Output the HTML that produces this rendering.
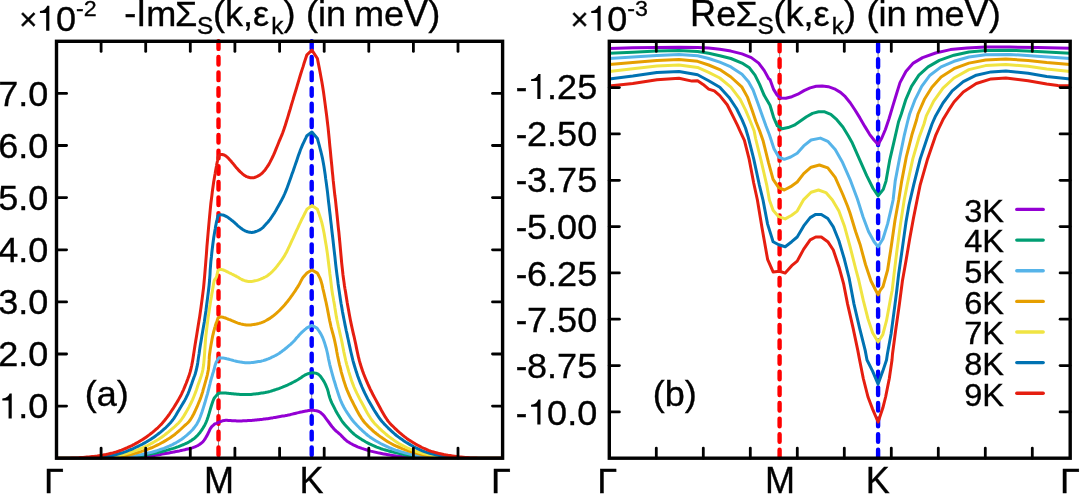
<!DOCTYPE html>
<html><head><meta charset="utf-8"><title>Self-energy plots</title>
<style>html,body{margin:0;padding:0;background:#fff;}body{width:1080px;height:494px;overflow:hidden;position:relative;font-family:"Liberation Sans",sans-serif;}</style></head>
<body>
<svg width="1080" height="494" viewBox="0 0 1080 494" style="position:absolute;left:0;top:0;will-change:transform;font-family:'Liberation Sans',sans-serif">
<rect width="1080" height="494" fill="#fff"/>
<line x1="218.5" y1="392" x2="218.5" y2="446" stroke="#333" stroke-width="0.55"/>
<line x1="311.7" y1="392" x2="311.7" y2="416" stroke="#333" stroke-width="0.55"/>
<line x1="779.6" y1="52" x2="779.6" y2="186" stroke="#333" stroke-width="0.55"/>
<line x1="878.1" y1="52" x2="878.1" y2="186" stroke="#333" stroke-width="0.55"/>
<defs><clipPath id="cd"><rect x="0" y="39.0" width="1080" height="420.9"/></clipPath></defs>
<g clip-path="url(#cd)">
<line x1="218.5" y1="41.30" x2="218.5" y2="458.2" stroke="#FF0000" stroke-width="4.4" stroke-linecap="round" stroke-dasharray="7.6 8.02"/>
<line x1="311.7" y1="41.30" x2="311.7" y2="458.2" stroke="#0000FF" stroke-width="4.4" stroke-linecap="round" stroke-dasharray="7.6 8.02"/>
<line x1="779.6" y1="28.08" x2="779.6" y2="458.2" stroke="#FF0000" stroke-width="4.4" stroke-linecap="round" stroke-dasharray="7.6 8.02"/>
<line x1="878.1" y1="28.08" x2="878.1" y2="458.2" stroke="#0000FF" stroke-width="4.4" stroke-linecap="round" stroke-dasharray="7.6 8.02"/>
</g>
<defs><clipPath id="c1"><rect x="56.5" y="41.3" width="446.1" height="417.9"/></clipPath><clipPath id="c2"><rect x="609.3" y="41.3" width="460.9000000000001" height="416.9"/></clipPath></defs>
<g clip-path="url(#c1)" fill="none" stroke-width="3" stroke-linejoin="round" stroke-linecap="round">
<polyline points="56.5,458.2 69.7,458.2 83.8,458.3 97.8,458.4 111.1,458.4 122.7,458.3 132.0,458.1 135.3,457.9 138.2,457.8 140.8,457.5 143.1,457.3 145.3,457.1 147.4,456.8 148.8,456.6 150.2,456.4 151.4,456.1 152.6,455.9 153.9,455.7 155.2,455.4 156.8,455.1 158.6,454.8 160.3,454.5 162.1,454.1 163.9,453.8 165.6,453.5 167.3,453.2 169.0,452.9 170.8,452.6 172.5,452.3 174.2,451.9 175.9,451.6 177.7,451.2 179.4,450.9 181.2,450.5 182.9,450.1 184.7,449.7 186.3,449.3 187.7,449.0 189.0,448.7 190.3,448.4 191.6,448.1 192.8,447.7 194.1,447.2 195.5,446.6 196.8,446.0 198.2,445.3 199.5,444.5 200.8,443.6 201.9,442.7 202.9,441.7 203.8,440.6 204.7,439.4 205.5,438.1 206.2,436.9 207.0,435.6 207.7,434.3 208.3,432.9 209.0,431.5 209.6,430.2 210.2,428.9 210.9,427.8 211.5,427.0 212.1,426.3 212.8,425.7 213.5,425.1 214.1,424.5 214.8,423.9 216.4,423.3 218.0,422.6 219.7,421.9 221.3,421.3 222.9,420.7 224.4,420.4 225.7,420.3 227.0,420.3 228.2,420.4 229.4,420.5 230.7,420.6 231.9,420.7 233.1,420.7 234.4,420.8 235.6,420.8 236.8,420.9 238.1,420.9 239.3,420.9 240.5,420.9 241.8,420.9 243.0,420.8 244.2,420.8 245.5,420.8 246.7,420.7 247.9,420.6 249.1,420.6 250.3,420.5 251.6,420.4 252.8,420.3 254.0,420.2 255.2,420.1 256.5,420.0 257.7,419.8 259.0,419.7 260.3,419.5 261.5,419.4 262.7,419.3 264.0,419.1 265.2,419.0 266.4,418.8 267.7,418.7 268.9,418.5 270.1,418.3 271.4,418.1 272.6,417.9 273.8,417.6 275.1,417.4 276.3,417.2 277.5,417.0 278.8,416.8 280.0,416.6 281.2,416.3 282.5,416.1 283.7,415.9 284.9,415.7 286.2,415.4 287.4,415.2 288.6,414.9 289.9,414.7 291.1,414.4 292.3,414.1 293.6,413.8 294.8,413.5 296.0,413.2 297.3,412.9 298.5,412.6 299.8,412.3 301.1,412.1 302.4,411.8 303.6,411.5 304.8,411.3 305.9,411.1 306.6,411.0 307.2,410.8 307.8,410.7 308.4,410.6 309.0,410.5 309.6,410.4 310.3,410.3 311.1,410.3 311.9,410.2 312.7,410.2 313.5,410.3 314.3,410.4 315.3,410.6 316.4,410.8 317.4,411.0 318.5,411.4 319.6,411.9 320.7,412.6 322.6,414.3 324.6,416.6 326.6,419.3 328.6,422.0 330.4,424.5 331.9,426.5 332.6,427.3 333.2,428.0 333.8,428.7 334.3,429.3 334.9,429.9 335.5,430.5 336.2,431.1 336.9,431.8 337.7,432.3 338.4,433.0 339.2,433.6 340.0,434.3 341.0,435.3 342.0,436.4 343.1,437.5 344.2,438.6 345.3,439.7 346.5,440.7 347.9,441.7 349.3,442.6 350.8,443.5 352.3,444.3 353.9,445.1 355.6,445.9 357.6,446.8 359.7,447.6 361.9,448.4 364.1,449.1 366.3,449.8 368.5,450.5 370.7,451.1 372.8,451.6 375.0,452.1 377.2,452.6 379.3,453.1 381.5,453.5 383.7,453.9 385.8,454.3 388.0,454.7 390.2,455.1 392.3,455.4 394.4,455.7 396.2,456.0 397.9,456.2 399.6,456.4 401.3,456.6 403.1,456.8 404.8,457.0 406.6,457.2 408.5,457.4 410.4,457.6 412.3,457.7 414.2,457.9 416.0,458.0 417.6,458.1 419.0,458.1 420.4,458.2 422.0,458.2 423.8,458.2 426.0,458.2 434.6,458.2 446.2,458.3 459.8,458.3 474.4,458.2 489.0,458.2 502.6,458.2" stroke="#9400D3"/>
<polyline points="56.5,458.2 68.3,458.2 80.8,458.3 93.2,458.4 105.0,458.5 115.5,458.4 124.0,458.1 127.3,457.9 130.2,457.7 132.8,457.4 135.2,457.2 137.4,456.8 139.6,456.5 141.0,456.2 142.4,455.9 143.6,455.6 144.8,455.3 146.1,454.9 147.4,454.6 149.0,454.3 150.8,453.9 152.5,453.6 154.3,453.2 156.1,452.9 157.8,452.5 159.5,452.1 161.2,451.7 163.0,451.3 164.7,450.8 166.4,450.4 168.1,449.9 169.8,449.4 171.6,448.9 173.3,448.4 175.1,447.8 176.8,447.2 178.5,446.6 180.3,445.9 182.1,445.2 183.8,444.5 185.6,443.7 187.3,442.9 188.9,442.0 190.3,441.1 191.7,440.3 193.0,439.3 194.3,438.4 195.5,437.3 196.7,436.2 197.9,434.9 199.1,433.6 200.2,432.2 201.3,430.7 202.3,429.2 203.2,427.8 203.9,426.6 204.6,425.4 205.2,424.2 205.8,422.9 206.4,421.5 207.0,420.0 208.1,416.8 209.3,412.9 210.5,408.7 211.7,404.7 212.9,401.2 213.9,398.7 214.3,398.0 214.7,397.5 215.0,397.1 215.4,396.7 215.7,396.3 216.1,395.9 216.5,395.5 216.8,395.0 217.2,394.6 217.6,394.2 217.9,393.7 218.3,393.3 218.9,393.2 219.4,393.2 219.9,393.1 220.5,393.1 221.1,393.0 221.7,393.0 222.6,393.0 223.7,393.0 224.7,393.1 225.9,393.1 227.0,393.2 228.1,393.3 229.3,393.4 230.5,393.5 231.8,393.7 233.0,393.8 234.3,394.0 235.6,394.1 237.1,394.2 238.6,394.3 240.1,394.4 241.7,394.5 243.3,394.6 244.8,394.6 246.3,394.6 247.9,394.5 249.5,394.5 251.0,394.4 252.5,394.2 254.0,394.1 255.3,394.0 256.6,393.8 257.8,393.7 259.0,393.5 260.3,393.3 261.5,393.1 262.7,392.9 264.0,392.7 265.2,392.5 266.4,392.2 267.7,392.0 268.9,391.7 270.1,391.4 271.4,391.0 272.6,390.6 273.8,390.2 275.1,389.8 276.3,389.4 277.5,389.0 278.8,388.6 280.0,388.1 281.2,387.7 282.5,387.2 283.7,386.7 284.9,386.2 286.2,385.6 287.4,385.1 288.6,384.5 289.9,383.9 291.1,383.3 292.3,382.7 293.6,382.0 294.8,381.4 296.0,380.7 297.3,380.0 298.5,379.3 299.7,378.5 301.0,377.7 302.2,376.8 303.4,376.0 304.7,375.2 305.9,374.6 307.0,374.1 308.1,373.7 309.2,373.4 310.3,373.1 311.3,372.9 312.4,372.8 313.4,372.8 314.3,372.9 315.3,373.1 316.2,373.3 317.1,373.7 318.0,374.1 318.9,374.7 319.7,375.5 320.4,376.3 321.2,377.3 321.9,378.3 322.6,379.3 323.4,380.6 324.3,382.1 325.1,383.6 325.8,385.2 326.5,386.9 327.2,388.5 327.8,390.3 328.3,392.1 328.7,393.9 329.2,395.8 329.8,397.8 330.5,399.9 331.9,403.1 333.7,406.7 335.6,410.4 337.6,414.0 339.6,417.3 341.3,420.0 342.2,421.3 343.1,422.5 343.9,423.5 344.7,424.5 345.6,425.5 346.5,426.5 347.7,427.8 348.9,429.1 350.1,430.4 351.5,431.8 352.8,433.0 354.3,434.3 356.0,435.7 357.9,437.0 359.8,438.3 361.8,439.6 363.9,440.8 365.9,442.0 368.0,443.1 370.1,444.2 372.3,445.2 374.5,446.1 376.7,447.1 378.9,447.9 381.0,448.7 383.2,449.4 385.4,450.0 387.6,450.6 389.7,451.2 391.9,451.8 394.1,452.4 396.3,452.9 398.5,453.4 400.7,453.9 402.8,454.4 404.8,454.8 406.2,455.1 407.5,455.4 408.7,455.7 410.0,455.9 411.2,456.2 412.6,456.4 414.4,456.7 416.3,457.0 418.2,457.3 420.2,457.5 422.1,457.7 424.0,457.9 425.6,458.0 427.0,458.1 428.5,458.1 430.0,458.2 431.8,458.2 434.0,458.2 441.9,458.3 452.3,458.3 464.5,458.3 477.5,458.2 490.5,458.2 502.6,458.2" stroke="#009E73"/>
<polyline points="56.5,458.2 66.5,458.2 77.0,458.3 87.5,458.3 97.6,458.3 106.5,458.3 114.0,458.1 117.2,458.0 120.1,457.8 122.8,457.6 125.2,457.5 127.3,457.2 129.3,457.0 130.3,456.9 131.1,456.7 131.9,456.5 132.7,456.4 133.5,456.2 134.4,456.0 135.9,455.7 137.6,455.3 139.4,455.0 141.2,454.6 143.0,454.2 144.8,453.8 146.5,453.4 148.3,453.0 150.0,452.6 151.7,452.2 153.5,451.7 155.2,451.2 156.9,450.7 158.7,450.1 160.4,449.5 162.2,448.9 163.9,448.3 165.6,447.6 167.3,446.9 169.1,446.2 170.8,445.4 172.5,444.6 174.2,443.7 175.9,442.8 177.7,441.7 179.5,440.6 181.3,439.4 183.0,438.2 184.7,436.9 186.3,435.6 187.7,434.4 189.1,433.1 190.5,431.8 191.8,430.5 193.0,429.2 194.1,427.8 195.0,426.6 195.9,425.4 196.7,424.3 197.4,423.0 198.2,421.6 199.0,420.0 200.4,416.5 201.9,412.3 203.4,407.6 204.9,402.8 206.2,398.2 207.4,394.1 208.1,391.4 208.8,388.7 209.4,386.2 210.0,383.8 210.5,381.5 211.1,379.3 211.6,377.6 212.1,376.0 212.5,374.5 213.0,372.9 213.5,371.5 213.9,370.0 214.3,368.7 214.6,367.3 214.9,366.0 215.3,364.7 215.7,363.5 216.1,362.4 216.5,361.5 217.0,360.8 217.4,360.0 217.9,359.3 218.4,358.5 218.9,357.8 219.7,357.8 220.4,357.9 221.2,357.9 221.9,357.9 222.7,358.0 223.5,358.1 224.5,358.3 225.6,358.5 226.7,358.8 227.8,359.0 228.9,359.3 230.0,359.6 231.2,359.9 232.4,360.2 233.6,360.6 234.8,360.9 236.1,361.2 237.4,361.5 238.9,361.8 240.4,362.1 242.0,362.3 243.6,362.6 245.1,362.7 246.7,362.8 248.2,362.8 249.8,362.7 251.4,362.6 252.9,362.4 254.4,362.2 255.9,362.0 257.2,361.8 258.4,361.6 259.7,361.4 260.9,361.2 262.1,360.9 263.3,360.6 264.5,360.2 265.8,359.8 267.0,359.3 268.3,358.9 269.5,358.3 270.7,357.8 271.9,357.2 273.2,356.7 274.4,356.0 275.7,355.4 276.9,354.7 278.1,354.0 279.4,353.2 280.6,352.3 281.9,351.4 283.1,350.4 284.4,349.5 285.6,348.5 286.9,347.5 288.1,346.4 289.3,345.4 290.6,344.3 291.8,343.2 293.0,342.0 294.3,340.7 295.5,339.3 296.7,337.8 298.0,336.4 299.2,335.0 300.4,333.7 301.5,332.6 302.6,331.6 303.7,330.7 304.7,329.7 305.8,328.8 306.9,327.8 311.9,325.4 317.0,328.1 317.8,329.3 318.6,330.5 319.4,331.7 320.2,332.9 321.0,334.2 321.7,335.6 322.6,337.5 323.4,339.5 324.2,341.7 324.9,343.9 325.6,346.2 326.3,348.5 326.9,351.0 327.5,353.5 328.0,356.1 328.5,358.8 329.1,361.5 329.7,364.3 330.6,367.9 331.6,371.7 332.7,375.6 333.8,379.5 335.0,383.3 336.1,387.0 337.1,390.1 338.1,393.2 339.1,396.2 340.1,399.1 341.3,402.0 342.6,404.8 344.0,407.5 345.6,410.2 347.3,412.9 349.0,415.4 350.7,417.8 352.3,420.0 353.5,421.5 354.6,422.8 355.8,424.1 356.9,425.3 358.1,426.5 359.4,427.8 361.0,429.3 362.6,430.9 364.3,432.4 366.1,434.0 367.9,435.5 369.8,436.9 371.8,438.3 374.0,439.7 376.1,441.0 378.4,442.3 380.6,443.5 382.8,444.6 384.9,445.6 387.1,446.6 389.2,447.6 391.4,448.5 393.5,449.3 395.7,450.1 397.9,450.8 400.0,451.5 402.2,452.1 404.4,452.7 406.6,453.3 408.7,453.8 410.7,454.3 412.6,454.7 414.6,455.1 416.5,455.4 418.5,455.8 420.4,456.1 422.3,456.4 424.3,456.8 426.3,457.1 428.2,457.4 430.1,457.6 432.0,457.8 433.6,457.9 435.1,458.0 436.5,458.1 438.1,458.1 439.9,458.2 442.0,458.2 449.1,458.3 458.4,458.3 469.1,458.3 480.5,458.3 491.9,458.2 502.6,458.2" stroke="#56B4E9"/>
<polyline points="56.5,458.2 65.1,458.2 74.0,458.3 83.0,458.4 91.6,458.4 99.4,458.3 106.0,458.1 109.1,457.9 111.9,457.7 114.5,457.5 116.9,457.2 119.2,456.9 121.5,456.5 123.4,456.2 125.1,455.8 126.8,455.4 128.5,455.1 130.2,454.6 131.9,454.2 133.6,453.7 135.3,453.3 137.1,452.8 138.8,452.3 140.5,451.8 142.2,451.2 143.9,450.6 145.7,450.0 147.4,449.4 149.2,448.7 150.9,448.0 152.6,447.3 154.4,446.5 156.1,445.7 157.8,444.8 159.6,444.0 161.3,443.0 163.0,442.1 164.7,441.1 166.5,440.1 168.2,439.0 169.9,438.0 171.6,436.8 173.3,435.6 175.1,434.2 176.9,432.7 178.7,431.1 180.5,429.5 182.1,428.0 183.7,426.5 184.9,425.4 186.0,424.5 187.1,423.5 188.1,422.5 189.1,421.4 190.2,420.0 191.9,417.3 193.7,414.0 195.4,410.4 197.1,406.7 198.6,403.0 200.0,399.6 201.0,397.0 201.8,394.5 202.6,392.1 203.2,389.7 203.9,387.3 204.6,384.8 205.3,382.3 206.0,379.9 206.7,377.5 207.3,375.0 207.8,372.5 208.3,370.0 208.6,367.4 208.9,364.7 209.0,362.1 209.2,359.4 209.3,356.7 209.6,354.0 210.0,351.2 210.4,348.4 210.9,345.5 211.4,342.7 211.9,340.0 212.4,337.4 212.8,335.4 213.3,333.5 213.7,331.6 214.2,329.8 214.7,328.0 215.2,326.3 215.6,324.8 216.1,323.4 216.6,322.1 217.1,320.7 217.5,319.4 218.0,318.0 218.4,317.8 218.9,317.6 219.3,317.4 219.7,317.2 220.2,317.1 220.7,317.0 221.4,317.0 222.1,317.1 222.9,317.3 223.7,317.5 224.6,317.7 225.4,318.0 226.4,318.4 227.5,318.8 228.6,319.3 229.7,319.7 230.8,320.2 231.9,320.7 233.1,321.2 234.3,321.7 235.5,322.2 236.8,322.7 238.0,323.1 239.3,323.5 240.7,323.9 242.1,324.2 243.5,324.5 244.9,324.7 246.3,324.9 247.6,325.0 248.7,325.0 249.8,325.0 250.8,324.9 251.9,324.7 252.9,324.6 254.0,324.4 255.2,324.2 256.5,324.0 257.7,323.7 259.0,323.4 260.3,323.0 261.5,322.6 262.8,322.1 264.0,321.6 265.2,321.0 266.5,320.3 267.7,319.6 268.9,318.9 270.2,318.1 271.4,317.2 272.7,316.3 273.9,315.3 275.1,314.3 276.3,313.3 277.6,312.2 278.8,311.0 280.1,309.8 281.3,308.5 282.5,307.2 283.7,305.9 285.0,304.5 286.2,303.0 287.5,301.5 288.7,299.9 289.9,298.3 291.1,296.7 292.4,294.9 293.7,293.0 295.0,291.1 296.2,289.2 297.4,287.4 298.5,285.6 299.3,284.2 300.1,282.7 300.8,281.3 301.5,279.9 302.2,278.7 303.0,277.5 303.6,276.7 304.3,275.9 304.9,275.2 305.6,274.5 306.2,273.8 306.9,273.1 311.9,270.0 317.4,273.1 318.0,274.2 318.5,275.3 319.1,276.4 319.7,277.6 320.2,278.7 320.7,280.0 321.2,281.7 321.7,283.4 322.2,285.2 322.6,287.1 323.0,289.1 323.5,291.1 324.1,293.7 324.7,296.4 325.3,299.2 326.0,302.0 326.6,304.9 327.2,307.8 327.8,310.9 328.4,314.0 329.0,317.2 329.6,320.3 330.3,323.4 330.9,326.3 331.5,328.7 332.1,330.9 332.7,333.0 333.3,335.2 333.9,337.5 334.5,340.0 335.3,343.7 336.1,347.6 336.8,351.8 337.6,356.0 338.5,360.2 339.4,364.3 340.4,368.2 341.3,372.1 342.4,375.9 343.5,379.7 344.7,383.4 345.9,387.0 347.1,390.1 348.4,393.2 349.7,396.2 351.1,399.1 352.6,402.0 354.0,404.8 355.4,407.5 356.8,410.2 358.3,412.9 359.7,415.4 361.2,417.8 362.7,420.0 363.8,421.5 365.0,422.9 366.1,424.1 367.3,425.4 368.5,426.6 369.8,427.8 371.2,429.1 372.6,430.5 374.1,431.8 375.6,433.0 377.2,434.3 378.9,435.6 380.9,437.1 383.0,438.5 385.2,440.0 387.4,441.4 389.7,442.8 391.9,444.0 394.0,445.1 396.2,446.1 398.3,447.0 400.5,447.9 402.6,448.8 404.8,449.6 406.9,450.4 409.1,451.1 411.3,451.7 413.4,452.4 415.6,452.9 417.8,453.5 420.0,454.0 422.1,454.5 424.3,454.9 426.5,455.3 428.6,455.7 430.7,456.1 432.6,456.4 434.5,456.8 436.4,457.1 438.3,457.4 440.2,457.6 442.0,457.8 443.6,457.9 445.1,458.0 446.6,458.1 448.1,458.1 449.9,458.2 452.0,458.2 458.2,458.3 466.0,458.3 474.9,458.3 484.3,458.2 493.7,458.2 502.6,458.2" stroke="#E69F00"/>
<polyline points="56.5,458.2 63.6,458.2 71.1,458.3 78.5,458.3 85.6,458.3 92.2,458.3 98.0,458.1 101.1,458.0 104.0,457.8 106.7,457.6 109.2,457.4 111.5,457.1 113.7,456.8 115.2,456.5 116.5,456.3 117.7,455.9 118.9,455.6 120.2,455.3 121.5,454.9 123.2,454.5 124.9,454.0 126.6,453.5 128.4,453.0 130.2,452.5 131.9,451.9 133.6,451.3 135.4,450.7 137.1,450.1 138.8,449.4 140.5,448.7 142.2,448.0 143.9,447.2 145.7,446.4 147.4,445.6 149.2,444.7 150.9,443.7 152.6,442.8 154.4,441.8 156.1,440.7 157.8,439.7 159.6,438.6 161.3,437.4 163.0,436.2 164.8,434.9 166.5,433.5 168.3,432.1 170.0,430.7 171.7,429.2 173.3,427.8 174.7,426.6 176.0,425.4 177.3,424.2 178.6,423.0 179.8,421.6 181.1,420.0 183.1,417.2 185.1,413.9 187.2,410.3 189.2,406.6 191.0,403.0 192.6,399.6 193.7,397.0 194.7,394.5 195.6,392.1 196.5,389.7 197.3,387.3 198.1,384.8 199.0,382.4 199.8,380.1 200.6,377.8 201.4,375.4 202.1,372.9 202.8,370.0 203.6,365.1 204.1,359.5 204.6,353.5 205.0,347.3 205.4,341.3 205.9,335.6 206.5,330.7 207.1,325.8 207.7,321.1 208.3,316.4 209.0,312.0 209.6,307.8 210.1,304.7 210.5,301.8 211.0,299.0 211.5,296.3 211.9,293.6 212.4,291.1 212.7,289.0 213.1,286.9 213.4,284.9 213.7,283.0 214.1,281.3 214.5,280.0 214.7,279.5 215.0,279.2 215.3,278.9 215.6,278.6 215.8,278.2 216.1,277.8 216.5,276.8 216.8,275.7 217.1,274.4 217.4,273.0 217.7,271.7 218.0,270.4 218.3,270.3 218.6,270.1 218.9,269.9 219.1,269.8 219.5,269.7 219.8,269.6 220.3,269.6 220.9,269.6 221.5,269.6 222.2,269.7 222.9,269.8 223.5,270.0 224.2,270.3 225.0,270.6 225.7,270.9 226.5,271.4 227.3,271.8 228.1,272.2 229.2,272.8 230.5,273.3 231.7,274.0 233.0,274.6 234.3,275.3 235.6,275.9 236.8,276.6 238.1,277.3 239.3,278.1 240.5,278.8 241.8,279.5 243.0,280.0 244.1,280.4 245.1,280.7 246.2,281.0 247.3,281.3 248.3,281.4 249.4,281.5 250.5,281.5 251.6,281.4 252.7,281.3 253.8,281.1 254.9,280.8 255.9,280.6 256.9,280.4 257.8,280.1 258.7,279.8 259.7,279.4 260.6,279.1 261.5,278.7 262.4,278.3 263.4,277.9 264.3,277.4 265.2,277.0 266.1,276.5 267.0,275.9 268.0,275.2 268.9,274.5 269.9,273.8 270.8,273.0 271.7,272.2 272.6,271.3 273.5,270.3 274.5,269.3 275.4,268.2 276.3,267.1 277.2,266.0 278.1,264.8 279.2,263.4 280.3,261.9 281.4,260.4 282.5,258.8 283.6,257.2 284.6,255.6 285.6,253.8 286.6,252.0 287.5,250.1 288.4,248.2 289.3,246.3 290.2,244.4 291.1,242.4 292.0,240.4 293.0,238.4 293.9,236.4 294.8,234.4 295.7,232.4 296.6,230.4 297.6,228.4 298.5,226.4 299.4,224.4 300.4,222.4 301.3,220.4 302.2,218.5 303.2,216.7 304.1,214.8 305.0,213.0 306.0,211.1 306.9,209.3 311.9,205.6 317.4,209.3 318.1,211.4 318.9,213.4 319.6,215.5 320.3,217.6 321.0,219.8 321.7,222.2 322.6,225.8 323.4,229.7 324.2,233.8 324.9,238.0 325.6,242.2 326.3,246.3 326.9,250.3 327.5,254.4 328.0,258.5 328.5,262.5 329.0,266.5 329.5,270.4 329.9,274.0 330.4,277.5 330.8,281.0 331.2,284.4 331.6,287.7 332.0,290.7 332.3,292.8 332.6,294.7 333.0,296.5 333.3,298.3 333.6,300.2 334.0,302.2 334.5,304.9 334.9,307.8 335.4,310.8 335.9,313.9 336.4,316.9 337.0,320.0 337.7,323.2 338.4,326.5 339.2,329.8 339.9,333.1 340.7,336.5 341.5,340.0 342.3,343.9 343.1,348.0 343.9,352.1 344.8,356.2 345.7,360.3 346.7,364.3 347.8,368.2 348.9,372.1 350.1,375.9 351.3,379.7 352.6,383.4 354.0,387.0 355.4,390.1 356.8,393.2 358.3,396.2 359.8,399.1 361.4,402.0 362.9,404.8 364.4,407.5 365.8,410.2 367.3,412.9 368.8,415.4 370.3,417.8 371.8,420.0 373.0,421.5 374.1,422.9 375.2,424.1 376.4,425.3 377.6,426.5 378.9,427.8 380.5,429.3 382.1,430.9 383.9,432.4 385.7,434.0 387.5,435.5 389.3,436.9 391.2,438.3 393.1,439.6 395.0,441.0 396.9,442.2 398.9,443.5 400.9,444.6 402.8,445.6 404.7,446.6 406.7,447.6 408.6,448.5 410.6,449.3 412.6,450.1 414.7,450.9 416.9,451.6 419.0,452.3 421.2,452.9 423.4,453.5 425.6,454.1 427.8,454.6 429.9,455.1 432.1,455.6 434.2,456.0 436.4,456.4 438.5,456.7 440.5,457.0 442.4,457.3 444.3,457.5 446.2,457.7 448.1,457.9 450.0,458.0 451.6,458.1 453.1,458.1 454.6,458.2 456.2,458.2 457.9,458.2 460.0,458.2 465.4,458.2 472.0,458.2 479.5,458.2 487.3,458.2 495.2,458.2 502.6,458.2" stroke="#F0E442"/>
<polyline points="56.5,458.2 62.2,458.2 68.1,458.2 74.0,458.3 79.8,458.3 85.1,458.2 90.0,458.1 93.1,458.0 95.9,457.8 98.7,457.6 101.2,457.4 103.6,457.1 105.9,456.8 107.4,456.6 108.7,456.3 109.9,456.1 111.1,455.8 112.4,455.5 113.7,455.2 115.4,454.8 117.1,454.3 118.8,453.8 120.6,453.3 122.4,452.8 124.1,452.2 125.8,451.6 127.6,450.9 129.3,450.2 131.0,449.5 132.7,448.8 134.4,448.0 136.1,447.2 137.9,446.4 139.6,445.5 141.4,444.7 143.1,443.7 144.8,442.8 146.6,441.8 148.3,440.7 150.0,439.7 151.8,438.6 153.5,437.4 155.2,436.2 157.0,434.9 158.8,433.5 160.6,432.1 162.3,430.7 164.0,429.2 165.6,427.8 166.9,426.5 168.1,425.3 169.3,424.0 170.5,422.8 171.6,421.4 172.7,420.0 173.9,418.3 175.1,416.5 176.2,414.7 177.3,412.8 178.5,410.8 179.6,408.9 180.9,406.8 182.1,404.7 183.4,402.6 184.7,400.4 185.9,398.2 187.0,395.9 188.1,393.5 189.1,391.0 190.0,388.5 190.9,385.9 191.8,383.5 192.6,381.1 193.3,379.2 193.9,377.5 194.6,375.8 195.2,374.0 195.7,372.1 196.3,370.0 197.1,366.4 197.8,362.4 198.4,358.1 199.1,353.7 199.7,349.2 200.4,344.8 201.2,340.3 201.9,335.8 202.7,331.2 203.5,326.6 204.3,321.9 205.0,317.0 205.9,311.0 206.7,304.5 207.6,297.8 208.4,291.3 209.1,285.3 209.6,280.0 209.8,277.1 210.0,274.6 210.1,272.2 210.2,269.9 210.4,267.5 210.6,264.8 210.9,261.0 211.4,257.0 211.8,252.8 212.3,248.6 212.8,244.5 213.3,240.7 213.7,237.7 214.2,234.7 214.7,231.8 215.2,229.0 215.6,226.4 216.1,224.0 216.4,222.4 216.7,221.0 217.1,219.7 217.4,218.4 217.7,217.0 218.0,215.7 218.3,215.5 218.6,215.4 218.9,215.2 219.1,215.0 219.5,214.9 219.8,214.8 220.3,214.7 220.9,214.7 221.5,214.8 222.2,214.9 222.9,215.0 223.5,215.2 224.3,215.5 225.0,215.8 225.8,216.2 226.5,216.6 227.3,217.1 228.1,217.6 229.0,218.2 230.0,218.9 230.9,219.6 231.8,220.4 232.8,221.1 233.7,221.9 234.6,222.7 235.6,223.6 236.5,224.4 237.4,225.3 238.3,226.1 239.3,226.9 240.3,227.7 241.4,228.5 242.4,229.2 243.5,229.9 244.6,230.6 245.7,231.1 246.6,231.5 247.6,231.8 248.5,232.0 249.5,232.2 250.4,232.3 251.3,232.4 252.1,232.4 252.9,232.3 253.6,232.2 254.4,232.0 255.1,231.8 255.9,231.5 256.8,231.2 257.8,230.8 258.7,230.3 259.7,229.9 260.6,229.3 261.5,228.7 262.5,227.9 263.4,227.1 264.3,226.1 265.2,225.1 266.1,224.1 267.0,223.1 268.0,222.0 268.9,220.8 269.9,219.6 270.8,218.3 271.7,217.0 272.6,215.7 273.5,214.3 274.5,212.8 275.4,211.3 276.3,209.7 277.2,208.1 278.1,206.5 279.2,204.6 280.3,202.5 281.4,200.5 282.5,198.3 283.6,196.2 284.6,194.0 285.6,191.6 286.6,189.2 287.5,186.8 288.4,184.3 289.3,181.8 290.2,179.3 291.1,176.7 292.0,174.1 293.0,171.4 293.9,168.8 294.8,166.1 295.7,163.5 296.6,160.9 297.5,158.2 298.4,155.5 299.4,152.9 300.3,150.3 301.3,147.8 302.2,145.7 303.1,143.6 304.1,141.6 305.0,139.7 306.0,137.7 306.9,135.7 311.9,132.0 317.4,138.5 318.3,141.9 319.2,145.2 320.1,148.6 321.0,152.0 321.8,155.4 322.6,158.9 323.3,162.8 324.0,166.7 324.6,170.7 325.2,174.8 325.7,178.9 326.3,183.0 326.9,187.5 327.5,192.1 328.0,196.7 328.5,201.3 329.1,206.0 329.6,210.7 330.2,215.5 330.7,220.3 331.3,225.1 331.8,230.0 332.4,235.0 333.0,240.0 333.6,245.7 334.3,251.7 335.0,257.7 335.6,263.7 336.3,269.5 337.0,275.0 337.6,279.4 338.1,283.7 338.7,287.9 339.3,291.9 339.9,296.0 340.5,300.0 341.1,303.8 341.8,307.5 342.4,311.2 343.1,314.9 343.8,318.5 344.5,322.0 345.1,325.1 345.7,328.0 346.3,331.0 347.0,333.9 347.6,336.9 348.3,340.0 349.1,343.9 350.0,347.9 350.9,352.0 351.9,356.2 352.9,360.3 354.0,364.3 355.2,368.2 356.4,372.1 357.7,375.9 359.1,379.7 360.5,383.4 362.0,387.0 363.4,390.1 364.8,393.2 366.3,396.2 367.8,399.1 369.4,402.0 371.0,404.8 372.6,407.5 374.2,410.2 375.9,412.9 377.5,415.4 379.2,417.8 380.8,420.0 382.0,421.5 383.2,422.8 384.3,424.1 385.5,425.3 386.7,426.5 388.0,427.8 389.6,429.3 391.2,430.9 392.9,432.4 394.7,434.0 396.5,435.5 398.3,436.9 400.2,438.3 402.1,439.6 404.0,440.9 406.0,442.2 408.0,443.4 410.0,444.6 412.1,445.8 414.2,447.0 416.4,448.1 418.6,449.2 420.8,450.2 423.0,451.1 425.2,451.9 427.4,452.6 429.6,453.2 431.8,453.8 433.9,454.3 435.9,454.8 437.3,455.1 438.6,455.4 439.8,455.7 441.0,455.9 442.3,456.2 443.7,456.4 445.6,456.7 447.6,457.0 449.7,457.3 451.9,457.5 454.0,457.7 456.0,457.9 457.7,458.0 459.2,458.1 460.7,458.1 462.2,458.2 464.0,458.2 466.0,458.2 470.8,458.2 476.5,458.3 482.9,458.2 489.6,458.2 496.2,458.2 502.6,458.2" stroke="#0072B2"/>
<polyline points="56.5,458.2 59.1,458.2 61.7,458.2 64.3,458.2 66.9,458.2 69.5,458.2 72.0,458.1 74.3,458.0 76.5,457.9 78.8,457.8 81.0,457.6 83.1,457.5 85.2,457.3 87.0,457.1 88.8,457.0 90.5,456.8 92.2,456.6 93.9,456.4 95.6,456.2 97.3,456.0 99.0,455.7 100.8,455.4 102.5,455.2 104.2,454.8 105.9,454.5 107.6,454.1 109.4,453.7 111.1,453.3 112.8,452.9 114.6,452.4 116.3,451.9 118.0,451.3 119.8,450.7 121.5,450.1 123.3,449.4 125.0,448.7 126.7,448.0 128.4,447.2 130.2,446.4 131.9,445.6 133.6,444.7 135.3,443.7 137.0,442.8 138.8,441.8 140.5,440.7 142.2,439.7 144.0,438.6 145.7,437.4 147.4,436.2 149.2,434.9 151.0,433.5 152.8,432.1 154.5,430.7 156.2,429.2 157.8,427.8 159.1,426.5 160.3,425.3 161.5,424.1 162.6,422.8 163.7,421.4 164.9,420.0 166.4,418.1 168.0,416.0 169.6,413.8 171.1,411.5 172.7,409.2 174.1,407.0 175.4,404.9 176.7,402.7 178.0,400.6 179.2,398.4 180.4,396.3 181.5,394.1 182.5,391.9 183.5,389.8 184.4,387.6 185.3,385.4 186.2,383.2 187.0,381.1 187.7,379.3 188.3,377.6 189.0,375.9 189.5,374.1 190.1,372.2 190.7,370.0 191.6,366.0 192.5,361.4 193.3,356.4 194.1,351.3 194.9,346.1 195.7,341.1 196.5,336.2 197.3,331.2 198.1,326.3 198.9,321.3 199.7,316.4 200.4,311.5 201.1,306.8 201.7,302.2 202.3,297.6 202.9,292.9 203.5,288.1 204.0,283.0 204.6,276.3 205.2,269.1 205.8,261.7 206.4,254.2 206.9,246.9 207.5,240.0 208.0,234.2 208.5,228.4 209.0,222.8 209.5,217.4 210.0,212.1 210.5,207.0 210.9,203.0 211.4,199.2 211.9,195.4 212.3,191.8 212.8,188.3 213.3,184.8 213.7,181.8 214.2,178.9 214.7,176.1 215.2,173.3 215.6,170.7 216.1,168.1 216.5,166.0 216.8,164.1 217.2,162.2 217.6,160.3 217.9,158.4 218.3,156.5 218.7,156.1 219.0,155.7 219.3,155.3 219.7,155.0 220.1,154.7 220.5,154.5 221.1,154.4 221.7,154.4 222.4,154.5 223.1,154.7 223.8,154.9 224.4,155.2 225.0,155.5 225.7,155.9 226.3,156.4 226.9,156.9 227.5,157.4 228.1,158.0 229.0,158.9 229.9,159.9 230.9,161.0 231.8,162.2 232.8,163.3 233.7,164.4 234.6,165.5 235.5,166.6 236.4,167.7 237.4,168.8 238.3,169.9 239.3,170.9 240.3,171.9 241.4,172.8 242.4,173.8 243.5,174.7 244.6,175.4 245.7,176.1 246.6,176.6 247.6,176.9 248.5,177.3 249.5,177.5 250.4,177.7 251.3,177.8 252.1,177.8 252.9,177.8 253.6,177.7 254.4,177.5 255.1,177.3 255.9,177.0 256.8,176.6 257.8,176.2 258.7,175.6 259.7,175.1 260.6,174.4 261.5,173.7 262.5,172.8 263.4,171.8 264.4,170.8 265.3,169.6 266.1,168.4 267.0,167.2 268.0,165.7 269.0,164.1 269.9,162.4 270.8,160.6 271.7,158.8 272.6,157.0 273.6,154.9 274.5,152.8 275.4,150.6 276.3,148.4 277.2,146.2 278.1,144.0 279.0,141.7 280.0,139.4 280.9,137.2 281.9,134.8 282.8,132.5 283.7,130.0 284.7,127.1 285.6,124.2 286.5,121.2 287.5,118.1 288.4,115.1 289.3,112.0 290.3,108.9 291.2,105.7 292.1,102.6 293.1,99.4 294.0,96.2 295.0,93.0 296.0,89.7 297.0,86.3 298.0,83.0 299.0,79.6 300.0,76.3 301.0,73.0 302.0,69.9 303.0,66.9 303.9,63.8 304.9,60.8 305.9,57.8 306.9,54.8 311.9,50.2 317.4,58.5 318.3,63.1 319.2,67.6 320.1,72.2 320.9,76.8 321.8,81.5 322.6,86.3 323.5,92.0 324.3,97.9 325.1,103.9 325.9,110.0 326.7,116.0 327.4,122.0 328.1,127.9 328.7,133.8 329.3,139.8 329.8,145.6 330.4,151.4 330.9,157.0 331.4,161.9 331.9,166.6 332.3,171.3 332.8,175.9 333.2,180.4 333.7,184.8 334.1,188.6 334.5,192.3 334.9,195.8 335.4,199.4 335.8,203.1 336.2,207.0 336.7,211.7 337.2,216.5 337.7,221.5 338.2,226.6 338.8,231.7 339.3,237.0 339.9,243.2 340.5,249.8 341.1,256.5 341.7,263.1 342.4,269.3 343.0,275.0 343.5,278.7 344.0,282.1 344.4,285.3 344.9,288.5 345.5,291.7 346.0,295.0 346.6,298.7 347.2,302.6 347.9,306.4 348.6,310.3 349.3,314.2 350.0,318.0 350.7,321.7 351.5,325.3 352.3,329.0 353.1,332.6 354.0,336.3 354.8,340.0 355.7,344.0 356.5,348.1 357.4,352.3 358.3,356.4 359.3,360.4 360.4,364.3 361.5,367.7 362.6,371.0 363.8,374.3 365.1,377.5 366.4,380.6 367.7,383.7 369.0,386.5 370.2,389.2 371.6,391.8 372.9,394.5 374.3,397.1 375.8,399.9 377.6,403.3 379.5,406.8 381.5,410.5 383.5,414.0 385.4,417.2 387.3,420.0 388.5,421.6 389.6,422.9 390.8,424.2 391.9,425.4 393.1,426.5 394.4,427.8 396.0,429.3 397.6,430.9 399.3,432.4 401.1,433.9 402.9,435.4 404.8,436.9 406.8,438.4 409.0,439.9 411.1,441.3 413.4,442.7 415.6,444.1 417.8,445.3 419.9,446.4 422.0,447.5 424.2,448.5 426.4,449.4 428.5,450.3 430.7,451.1 432.8,451.8 435.0,452.4 437.2,453.0 439.3,453.6 441.5,454.0 443.7,454.5 445.9,454.9 448.0,455.3 450.2,455.6 452.4,455.9 454.5,456.2 456.7,456.5 458.9,456.8 461.1,457.0 463.2,457.2 465.4,457.5 467.5,457.6 469.6,457.8 471.4,457.9 473.0,458.0 474.6,458.1 476.3,458.1 478.0,458.2 480.0,458.2 483.3,458.2 486.9,458.3 490.8,458.2 494.7,458.2 498.7,458.2 502.6,458.2" stroke="#E51E10"/>
</g>
<g clip-path="url(#c2)" fill="none" stroke-width="3" stroke-linejoin="round" stroke-linecap="round">
<polyline points="609.3,48.4 632.8,47.8 656.9,47.4 679.0,47.2 697.6,47.6 708.7,48.1 719.8,49.3 730.9,51.1 742.0,53.9 751.3,57.6 758.7,63.1 764.3,70.6 768.9,79.0 770.0,79.6 773.6,89.4 777.3,95.4 780.9,98.1 785.8,98.2 791.9,96.7 797.9,94.2 804.0,90.6 810.1,87.9 816.2,86.3 822.2,86.0 828.3,86.7 834.4,88.8 840.5,92.4 845.3,96.7 850.2,102.7 855.0,110.0 859.9,117.9 864.8,126.4 869.6,134.3 874.0,140.0 878.1,144.4 881.8,138.0 885.4,129.5 889.1,118.5 892.7,106.4 896.4,94.2 900.0,82.6 905.9,71.5 913.3,63.1 922.6,57.6 935.6,53.0 950.4,49.6 967.0,48.0 985.6,47.0 1009.6,47.0 1037.4,47.6 1070.2,48.3" stroke="#9400D3"/>
<polyline points="609.3,53.3 632.8,52.2 656.9,51.1 679.0,50.6 697.6,51.5 708.7,53.3 719.8,55.7 730.9,58.5 742.0,63.1 749.4,67.8 755.0,75.2 759.6,84.4 764.3,95.6 770.0,105.2 773.6,117.3 777.3,125.8 782.2,128.7 788.2,127.6 794.3,125.2 800.4,121.0 806.5,116.7 812.5,113.4 818.6,111.8 824.7,111.8 830.8,114.3 836.8,119.7 842.9,127.0 848.4,136.0 851.9,142.2 859.3,158.9 866.7,175.6 873.1,188.5 878.1,195.9 883.3,189.4 886.0,181.1 889.6,160.7 894.3,140.4 898.5,122.0 901.3,114.0 905.9,99.3 911.5,86.3 918.9,75.2 928.1,66.9 939.3,60.4 954.0,55.2 968.9,52.0 985.6,50.6 1009.6,50.2 1037.4,51.5 1070.2,53.3" stroke="#009E73"/>
<polyline points="609.3,58.5 632.8,57.0 656.9,55.4 679.0,54.4 697.6,55.7 708.7,58.5 719.8,62.2 730.9,66.9 742.0,74.3 748.5,81.7 753.1,90.0 757.8,103.0 762.4,115.9 766.0,126.0 769.4,134.8 774.0,148.7 778.7,157.0 784.3,159.3 790.7,157.0 797.2,153.3 803.7,145.9 811.1,140.0 820.4,138.1 827.8,141.3 835.2,149.6 842.6,162.6 850.0,179.3 857.4,199.0 863.0,216.7 868.5,231.5 874.1,241.7 878.1,246.8 883.0,238.7 887.6,223.9 891.0,209.3 893.1,200.0 895.2,181.1 899.8,157.0 904.4,134.8 907.5,122.0 909.6,114.0 915.2,99.3 921.7,86.3 930.0,75.2 941.1,66.9 954.0,61.3 968.9,57.0 985.6,54.8 1009.6,54.4 1037.4,56.3 1070.2,58.5" stroke="#56B4E9"/>
<polyline points="609.3,64.4 632.8,62.6 656.9,60.4 679.0,59.4 697.6,61.3 708.7,65.0 719.8,69.6 730.9,77.0 742.0,87.2 747.6,97.4 752.2,110.4 755.9,121.5 759.6,130.7 763.0,140.4 768.5,162.6 773.1,179.3 778.7,187.6 784.3,190.0 790.7,186.7 797.2,182.0 803.7,173.7 811.1,167.2 819.4,165.0 827.8,167.8 835.2,177.4 842.6,194.0 847.5,206.0 850.0,213.0 855.6,231.5 860.0,244.2 865.5,264.5 871.0,281.0 875.7,290.2 878.1,294.8 880.3,290.2 883.0,286.6 887.6,270.0 891.3,246.0 895.0,220.3 898.7,200.0 901.7,181.1 906.3,157.0 911.9,134.8 916.5,120.0 918.0,114.0 924.4,99.3 931.9,87.2 941.1,77.0 954.0,68.7 968.9,63.1 985.6,60.0 1005.9,59.1 1028.1,60.4 1046.7,62.6 1070.2,64.4" stroke="#E69F00"/>
<polyline points="609.3,71.5 632.8,68.7 656.9,65.9 679.0,65.0 697.6,67.4 708.7,72.4 719.8,78.0 730.9,87.2 740.2,99.3 745.7,110.4 750.2,121.0 754.1,130.7 755.6,138.5 761.1,160.7 766.7,184.8 769.4,200.0 773.1,210.2 778.7,216.7 785.2,218.9 791.7,215.2 797.2,211.1 803.7,199.6 811.1,192.2 818.5,190.0 825.9,192.6 832.4,200.0 838.9,211.1 844.4,225.9 850.0,246.3 855.6,268.5 858.7,280.0 863.3,300.4 868.0,318.9 872.6,332.8 878.1,342.0 882.8,334.6 886.5,320.7 890.2,300.4 892.2,290.2 894.1,273.7 896.8,251.6 900.5,223.9 904.2,200.0 907.2,184.8 912.8,158.9 919.3,136.7 924.0,124.0 926.3,115.9 933.7,101.1 943.0,88.1 954.0,78.0 968.9,69.6 985.6,65.6 1005.9,64.4 1028.1,66.3 1046.7,69.1 1070.2,71.5" stroke="#F0E442"/>
<polyline points="609.3,78.9 632.8,76.1 656.9,72.4 679.0,71.5 697.6,74.8 708.7,80.7 719.8,87.2 729.1,97.4 736.5,108.5 742.0,119.6 745.5,128.0 748.1,136.7 753.7,158.9 759.3,184.8 763.0,200.0 767.6,224.1 773.1,241.7 778.7,244.8 785.2,246.7 791.7,241.7 797.2,237.0 803.7,225.9 810.2,217.6 815.7,214.4 821.3,214.4 827.8,218.5 833.3,226.9 838.9,240.7 844.4,259.3 849.1,278.0 854.0,304.1 859.6,328.1 865.2,350.4 867.0,360.0 872.6,371.1 878.1,384.1 882.8,371.1 886.5,360.0 887.4,354.0 891.1,333.7 894.8,305.9 896.8,290.2 898.7,273.7 902.4,247.9 906.0,222.1 909.0,205.0 913.7,184.8 920.2,158.9 927.6,136.7 932.0,124.0 935.6,115.9 943.0,103.0 952.2,90.9 963.3,81.7 976.3,75.2 991.1,71.9 1005.9,71.1 1028.1,73.3 1046.7,76.5 1070.2,78.9" stroke="#0072B2"/>
<polyline points="609.3,85.9 632.8,83.5 656.9,79.8 679.0,78.3 692.0,81.1 697.6,80.7 703.1,84.4 708.7,89.1 714.3,90.9 719.8,95.6 727.2,104.8 732.8,115.9 737.4,125.2 740.0,131.0 744.4,140.4 749.1,158.9 753.7,183.0 757.4,200.0 762.0,227.8 767.6,259.3 773.1,271.9 779.6,271.3 785.2,273.1 791.7,265.7 797.2,261.1 803.7,249.1 810.2,239.8 815.7,237.0 821.3,237.0 827.8,241.7 833.3,250.0 838.9,266.7 843.5,283.3 847.6,304.1 853.1,328.1 857.8,350.4 859.6,360.0 863.3,378.5 868.0,397.0 872.6,409.1 878.1,422.0 882.8,408.1 885.6,397.0 889.3,378.5 892.0,360.0 892.5,354.0 895.7,330.0 899.4,304.1 902.4,281.0 906.0,260.8 909.7,238.7 913.4,218.4 917.1,200.0 920.2,184.8 927.6,158.9 935.9,134.8 939.0,128.0 943.0,119.6 948.5,110.4 954.0,102.0 963.3,91.9 976.3,83.5 991.1,78.9 1005.9,78.0 1028.1,80.7 1046.7,84.1 1057.8,85.4 1070.2,85.7" stroke="#E51E10"/>
</g>
<g stroke-width="3.4" stroke-linecap="round">
<line x1="1016.8" y1="209.4" x2="1043.2" y2="209.4" stroke="#9400D3"/>
<line x1="1016.8" y1="240.1" x2="1043.2" y2="240.1" stroke="#009E73"/>
<line x1="1016.8" y1="270.7" x2="1043.2" y2="270.7" stroke="#56B4E9"/>
<line x1="1016.8" y1="301.4" x2="1043.2" y2="301.4" stroke="#E69F00"/>
<line x1="1016.8" y1="332.0" x2="1043.2" y2="332.0" stroke="#F0E442"/>
<line x1="1016.8" y1="362.6" x2="1043.2" y2="362.6" stroke="#0072B2"/>
<line x1="1016.8" y1="393.3" x2="1043.2" y2="393.3" stroke="#E51E10"/>
</g>
<g font-size="34.6px" fill="#000" stroke="#000" stroke-width="0.35" opacity="0.999">
<text transform="translate(1004.00 221.60) scale(1.03 1)" text-anchor="end" font-size="31.6px">3K</text>
<text transform="translate(1004.00 252.25) scale(1.03 1)" text-anchor="end" font-size="31.6px">4K</text>
<text transform="translate(1004.00 282.90) scale(1.03 1)" text-anchor="end" font-size="31.6px">5K</text>
<text transform="translate(1004.00 313.55) scale(1.03 1)" text-anchor="end" font-size="31.6px">6K</text>
<text transform="translate(1004.00 344.20) scale(1.03 1)" text-anchor="end" font-size="31.6px">7K</text>
<text transform="translate(1004.00 374.85) scale(1.03 1)" text-anchor="end" font-size="31.6px">8K</text>
<text transform="translate(1004.00 405.50) scale(1.03 1)" text-anchor="end" font-size="31.6px">9K</text>
<g stroke="#000" fill="none" stroke-width="3.4">
<rect x="56.5" y="41.3" width="446.1" height="416.9"/>
<rect x="609.3" y="41.3" width="460.9000000000001" height="416.9"/>
</g>
<g stroke="#000" stroke-width="2.8" stroke-linecap="round">
<line x1="101.1" y1="41.3" x2="101.1" y2="51.4"/><line x1="101.1" y1="458.2" x2="101.1" y2="448.09999999999997"/>
<line x1="656.3" y1="41.3" x2="656.3" y2="51.4"/><line x1="656.3" y1="458.2" x2="656.3" y2="448.09999999999997"/>
<line x1="145.7" y1="41.3" x2="145.7" y2="51.4"/><line x1="145.7" y1="458.2" x2="145.7" y2="448.09999999999997"/>
<line x1="703.3" y1="41.3" x2="703.3" y2="51.4"/><line x1="703.3" y1="458.2" x2="703.3" y2="448.09999999999997"/>
<line x1="190.3" y1="41.3" x2="190.3" y2="51.4"/><line x1="190.3" y1="458.2" x2="190.3" y2="448.09999999999997"/>
<line x1="750.3" y1="41.3" x2="750.3" y2="51.4"/><line x1="750.3" y1="458.2" x2="750.3" y2="448.09999999999997"/>
<line x1="234.9" y1="41.3" x2="234.9" y2="51.4"/><line x1="234.9" y1="458.2" x2="234.9" y2="448.09999999999997"/>
<line x1="797.3" y1="41.3" x2="797.3" y2="51.4"/><line x1="797.3" y1="458.2" x2="797.3" y2="448.09999999999997"/>
<line x1="279.6" y1="41.3" x2="279.6" y2="51.4"/><line x1="279.6" y1="458.2" x2="279.6" y2="448.09999999999997"/>
<line x1="844.3" y1="41.3" x2="844.3" y2="51.4"/><line x1="844.3" y1="458.2" x2="844.3" y2="448.09999999999997"/>
<line x1="324.2" y1="41.3" x2="324.2" y2="51.4"/><line x1="324.2" y1="458.2" x2="324.2" y2="448.09999999999997"/>
<line x1="891.3" y1="41.3" x2="891.3" y2="51.4"/><line x1="891.3" y1="458.2" x2="891.3" y2="448.09999999999997"/>
<line x1="368.8" y1="41.3" x2="368.8" y2="51.4"/><line x1="368.8" y1="458.2" x2="368.8" y2="448.09999999999997"/>
<line x1="938.3" y1="41.3" x2="938.3" y2="51.4"/><line x1="938.3" y1="458.2" x2="938.3" y2="448.09999999999997"/>
<line x1="413.4" y1="41.3" x2="413.4" y2="51.4"/><line x1="413.4" y1="458.2" x2="413.4" y2="448.09999999999997"/>
<line x1="985.3" y1="41.3" x2="985.3" y2="51.4"/><line x1="985.3" y1="458.2" x2="985.3" y2="448.09999999999997"/>
<line x1="458.0" y1="41.3" x2="458.0" y2="51.4"/><line x1="458.0" y1="458.2" x2="458.0" y2="448.09999999999997"/>
<line x1="1032.3" y1="41.3" x2="1032.3" y2="51.4"/><line x1="1032.3" y1="458.2" x2="1032.3" y2="448.09999999999997"/>
<line x1="56.5" y1="406.1" x2="66.6" y2="406.1"/><line x1="502.6" y1="406.1" x2="492.5" y2="406.1"/>
<line x1="56.5" y1="354.0" x2="66.6" y2="354.0"/><line x1="502.6" y1="354.0" x2="492.5" y2="354.0"/>
<line x1="56.5" y1="301.9" x2="66.6" y2="301.9"/><line x1="502.6" y1="301.9" x2="492.5" y2="301.9"/>
<line x1="56.5" y1="249.8" x2="66.6" y2="249.8"/><line x1="502.6" y1="249.8" x2="492.5" y2="249.8"/>
<line x1="56.5" y1="197.6" x2="66.6" y2="197.6"/><line x1="502.6" y1="197.6" x2="492.5" y2="197.6"/>
<line x1="56.5" y1="145.5" x2="66.6" y2="145.5"/><line x1="502.6" y1="145.5" x2="492.5" y2="145.5"/>
<line x1="56.5" y1="93.4" x2="66.6" y2="93.4"/><line x1="502.6" y1="93.4" x2="492.5" y2="93.4"/>
<line x1="609.3" y1="87.6" x2="619.4" y2="87.6"/><line x1="1070.2" y1="87.6" x2="1060.1000000000001" y2="87.6"/>
<line x1="609.3" y1="133.9" x2="619.4" y2="133.9"/><line x1="1070.2" y1="133.9" x2="1060.1000000000001" y2="133.9"/>
<line x1="609.3" y1="180.3" x2="619.4" y2="180.3"/><line x1="1070.2" y1="180.3" x2="1060.1000000000001" y2="180.3"/>
<line x1="609.3" y1="226.6" x2="619.4" y2="226.6"/><line x1="1070.2" y1="226.6" x2="1060.1000000000001" y2="226.6"/>
<line x1="609.3" y1="272.9" x2="619.4" y2="272.9"/><line x1="1070.2" y1="272.9" x2="1060.1000000000001" y2="272.9"/>
<line x1="609.3" y1="319.2" x2="619.4" y2="319.2"/><line x1="1070.2" y1="319.2" x2="1060.1000000000001" y2="319.2"/>
<line x1="609.3" y1="365.6" x2="619.4" y2="365.6"/><line x1="1070.2" y1="365.6" x2="1060.1000000000001" y2="365.6"/>
<line x1="609.3" y1="411.9" x2="619.4" y2="411.9"/><line x1="1070.2" y1="411.9" x2="1060.1000000000001" y2="411.9"/>
</g>
<path transform="translate(-1.71 418.39) scale(0.03605 -0.03460)" d="M373 0H285V518H112V572Q196 580 250 625Q296 668 314 722H373Z" stroke="none"/>
<text transform="translate(18.33 418.39) scale(1.042 1)" font-size="34.6px">.0</text>
<text transform="translate(-1.71 366.28) scale(1.042 1)" font-size="34.6px">2.0</text>
<text transform="translate(-1.71 314.16) scale(1.042 1)" font-size="34.6px">3.0</text>
<text transform="translate(-1.71 262.05) scale(1.042 1)" font-size="34.6px">4.0</text>
<text transform="translate(-1.71 209.94) scale(1.042 1)" font-size="34.6px">5.0</text>
<text transform="translate(-1.71 157.83) scale(1.042 1)" font-size="34.6px">6.0</text>
<text transform="translate(-1.71 105.71) scale(1.042 1)" font-size="34.6px">7.0</text>
<text transform="translate(515.73 99.02) scale(1.00032 1)" font-size="34.6px">-</text>
<path transform="translate(527.04 99.02) scale(0.03605 -0.03460)" d="M373 0H285V518H112V572Q196 580 250 625Q296 668 314 722H373Z" stroke="none"/>
<text transform="translate(547.09 99.02) scale(1.042 1)" font-size="34.6px">.25</text>
<text transform="translate(515.73 145.67) scale(1.00032 1)" font-size="34.6px">-</text>
<text transform="translate(527.04 145.67) scale(1.042 1)" font-size="34.6px">2.50</text>
<text transform="translate(515.73 192.33) scale(1.00032 1)" font-size="34.6px">-</text>
<text transform="translate(527.04 192.33) scale(1.042 1)" font-size="34.6px">3.75</text>
<text transform="translate(515.73 238.98) scale(1.00032 1)" font-size="34.6px">-</text>
<text transform="translate(527.04 238.98) scale(1.042 1)" font-size="34.6px">5.00</text>
<text transform="translate(515.73 285.61) scale(1.00032 1)" font-size="34.6px">-</text>
<text transform="translate(527.04 285.61) scale(1.042 1)" font-size="34.6px">6.25</text>
<text transform="translate(515.73 331.93) scale(1.00032 1)" font-size="34.6px">-</text>
<text transform="translate(527.04 331.93) scale(1.042 1)" font-size="34.6px">7.50</text>
<text transform="translate(515.73 378.26) scale(1.00032 1)" font-size="34.6px">-</text>
<text transform="translate(527.04 378.26) scale(1.042 1)" font-size="34.6px">8.75</text>
<text transform="translate(515.73 424.58) scale(1.00032 1)" font-size="34.6px">-</text>
<path transform="translate(527.04 424.58) scale(0.03605 -0.03460)" d="M373 0H285V518H112V572Q196 580 250 625Q296 668 314 722H373Z" stroke="none"/>
<text transform="translate(547.09 424.58) scale(1.042 1)" font-size="34.6px">0.0</text>
<text transform="translate(44.10 492.80) scale(1.02 1)" font-size="35.4px">Γ</text>
<text transform="translate(491.10 492.80) scale(1.02 1)" font-size="35.4px">Γ</text>
<text transform="translate(597.20 493.40) scale(1.02 1)" font-size="35.4px">Γ</text>
<text transform="translate(1060.00 493.40) scale(1.02 1)" font-size="35.4px">Γ</text>
<text transform="translate(218.90 493.10) scale(0.977 1)" text-anchor="middle" font-size="36.9px">M</text>
<text transform="translate(311.40 493.10) scale(0.977 1)" text-anchor="middle" font-size="36.9px">K</text>
<text transform="translate(780.00 493.40) scale(0.977 1)" text-anchor="middle" font-size="36.9px">M</text>
<text transform="translate(877.80 493.40) scale(0.977 1)" text-anchor="middle" font-size="36.9px">K</text>
<text transform="translate(84.80 405.90) scale(1.042 1)">(a)</text>
<text transform="translate(652.80 405.80) scale(1.042 1)">(b)</text>
<text transform="translate(19.30 30.00) scale(1.0 1)" font-size="31px">×</text>
<path transform="translate(35.90 30.80) scale(0.03605 -0.03460)" d="M373 0H285V518H112V572Q196 580 250 625Q296 668 314 722H373Z" stroke="none"/>
<text transform="translate(55.95 30.80) scale(1.042 1)" font-size="34.6px">0</text>
<text transform="translate(76.00 15.60) scale(1.042 1)" font-size="22.3px">-2</text>
<text transform="translate(570.60 30.00) scale(1.0 1)" font-size="31px">×</text>
<path transform="translate(587.20 30.80) scale(0.03605 -0.03460)" d="M373 0H285V518H112V572Q196 580 250 625Q296 668 314 722H373Z" stroke="none"/>
<text transform="translate(607.25 30.80) scale(1.042 1)" font-size="34.6px">0</text>
<text transform="translate(627.30 15.60) scale(1.042 1)" font-size="22.3px">-3</text>
<text transform="translate(124.30 25.40) scale(1.044 1)">-</text>
<text transform="translate(136.33 25.90) scale(0.979 1)" font-size="36.9px">I</text>
<text transform="translate(146.37 25.90) scale(1.044 1)">m</text>
<text transform="translate(174.90 25.90) scale(1.02 1)" font-size="35.4px">Σ</text>
<text transform="translate(197.00 33.80) scale(1.044 1)" font-size="23.4px">S</text>
<text transform="translate(212.90 25.90) scale(1.044 1)">(k,ε</text>
<text transform="translate(271.30 33.80) scale(1.044 1)" font-size="23.4px">k</text>
<text transform="translate(283.50 25.90) scale(1.044 1)">)</text>
<text transform="translate(306.00 25.90) scale(1.044 1)">(in</text>
<text transform="translate(353.90 25.90) scale(1.044 1)">me</text>
<text transform="translate(404.07 25.90) scale(0.979 1)" font-size="36.9px">V</text>
<text transform="translate(428.17 25.90) scale(1.044 1)">)</text>
<text transform="translate(690.10 25.90) scale(0.979 1)" font-size="36.9px">R</text>
<text transform="translate(716.18 25.90) scale(1.044 1)">e</text>
<text transform="translate(735.40 25.90) scale(1.02 1)" font-size="35.4px">Σ</text>
<text transform="translate(757.50 33.80) scale(1.044 1)" font-size="23.4px">S</text>
<text transform="translate(773.40 25.90) scale(1.044 1)">(k,ε</text>
<text transform="translate(831.80 33.80) scale(1.044 1)" font-size="23.4px">k</text>
<text transform="translate(844.00 25.90) scale(1.044 1)">)</text>
<text transform="translate(866.50 25.90) scale(1.044 1)">(in</text>
<text transform="translate(914.40 25.90) scale(1.044 1)">me</text>
<text transform="translate(964.57 25.90) scale(0.979 1)" font-size="36.9px">V</text>
<text transform="translate(988.67 25.90) scale(1.044 1)">)</text>
</g>
</svg>
</body></html>
